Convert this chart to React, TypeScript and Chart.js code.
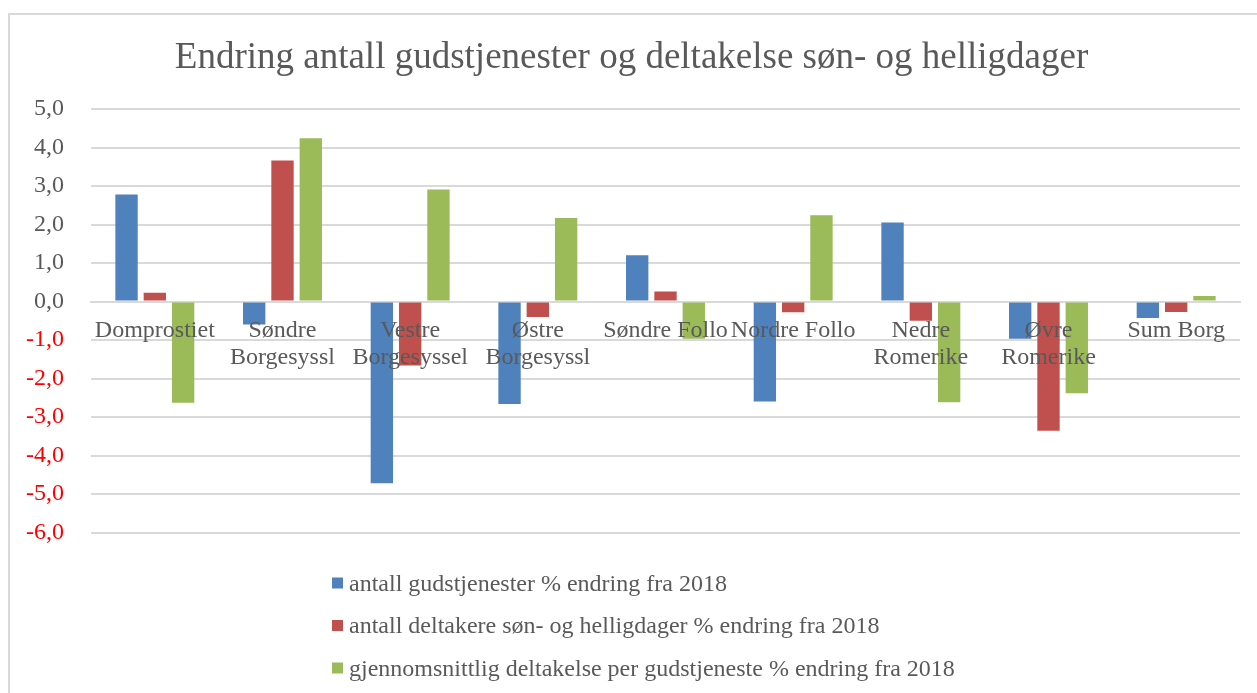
import React, { useEffect, useRef } from "react";
import { Chart, registerables } from "chart.js";

Chart.register(...registerables);

const categories: (string | string[])[] = [
  "Domprostiet",
  ["Søndre", "Borgesyssl"],
  ["Vestre", "Borgesyssel"],
  ["Østre", "Borgesyssl"],
  "Søndre Follo",
  "Nordre Follo",
  ["Nedre", "Romerike"],
  ["Øvre", "Romerike"],
  "Sum Borg",
];

const seriesNames = [
  "antall gudstjenester % endring fra 2018",
  "antall deltakere søn- og helligdager % endring fra 2018",
  "gjennomsnittlig deltakelse per gudstjeneste % endring fra 2018",
];

const gudstjenester = [2.78, -0.6, -4.72, -2.66, 1.2, -2.6, 2.05, -0.97, -0.43];
const deltakere = [0.23, 3.66, -1.66, -0.4, 0.26, -0.28, -0.5, -3.36, -0.27];
const gjennomsnitt = [-2.63, 4.24, 2.91, 2.17, -0.97, 2.24, -2.62, -2.38, 0.14];

const colors = ["#4f81bd", "#c0504d", "#9bbb59"];

const FONT = '"Liberation Serif", "Times New Roman", serif';
const TEXT = "#595959";

const legendPlugin = {
  id: "stackedLegend",
  afterDraw(chart: any) {
    const ctx = chart.ctx;
    const startY = 568;
    const step = 42.5;
    ctx.save();
    ctx.font = `24px ${FONT}`;
    ctx.textBaseline = "alphabetic";
    ctx.textAlign = "left";
    chart.data.datasets.forEach((ds: any, i: number) => {
      const cy = startY + i * step;
      ctx.fillStyle = ds.backgroundColor;
      ctx.fillRect(322, cy - 5.5, 11, 11);
      ctx.fillStyle = TEXT;
      ctx.fillText(ds.label, 339, cy + 7.5);
    });
    ctx.restore();
  },
};

export default function App() {
  const ref = useRef<HTMLCanvasElement>(null);

  useEffect(() => {
    if (!ref.current) return;
    const data = [gudstjenester, deltakere, gjennomsnitt];
    const chart = new Chart(ref.current, {
      type: "bar",
      data: {
        labels: categories,
        datasets: seriesNames.map((name, i) => ({
          label: name,
          data: data[i],
          backgroundColor: colors[i],
          borderWidth: 0,
          categoryPercentage: 0.665,
          barPercentage: 0.79,
        })),
      },
      options: {
        animation: false,
        responsive: true,
        maintainAspectRatio: false,
        layout: { padding: { left: 13, right: 17, top: 0, bottom: 160.5 } },
        plugins: {
          legend: { display: false },
          tooltip: { enabled: false },
          title: {
            display: true,
            text: "Endring antall gudstjenester og deltakelse søn- og helligdager",
            color: TEXT,
            font: { family: FONT, size: 37, weight: "normal", lineHeight: 1.2 },
            padding: { top: 21.5, bottom: 28.1 },
          },
        },
        scales: {
          x: {
            position: { y: 0 } as any,
            grid: { display: false, drawTicks: false },
            border: { display: true, color: "#d9d9d9", width: 2 },
            ticks: {
              z: 1,
              color: TEXT,
              font: { family: FONT, size: 24, lineHeight: 1.12 },
              padding: 16,
              autoSkip: false,
              maxRotation: 0,
              minRotation: 0,
            },
          },
          y: {
            min: -6,
            max: 5,
            afterFit: (scale: any) => {
              scale.width = 68;
            },
            grid: { color: "#d9d9d9", lineWidth: 2, drawTicks: false },
            border: { display: false },
            ticks: {
              stepSize: 1,
              padding: 27,
              color: (c: any) => (c.tick && c.tick.value < 0 ? "#ff0000" : TEXT),
              font: { family: FONT, size: 24 },
              callback: (v: any) => Number(v).toFixed(1).replace(".", ","),
            },
          },
        },
      },
      plugins: [legendPlugin],
    });
    return () => chart.destroy();
  }, []);

  return (
    <div
      style={{
        position: "absolute",
        left: 8,
        top: 13,
        borderLeft: "2px solid #d9d9d9",
        borderTop: "2px solid #d9d9d9",
        background: "#fff",
      }}
    >
      <div style={{ position: "relative", width: 1247, height: 678 }}>
        <canvas ref={ref} />
      </div>
    </div>
  );
}
